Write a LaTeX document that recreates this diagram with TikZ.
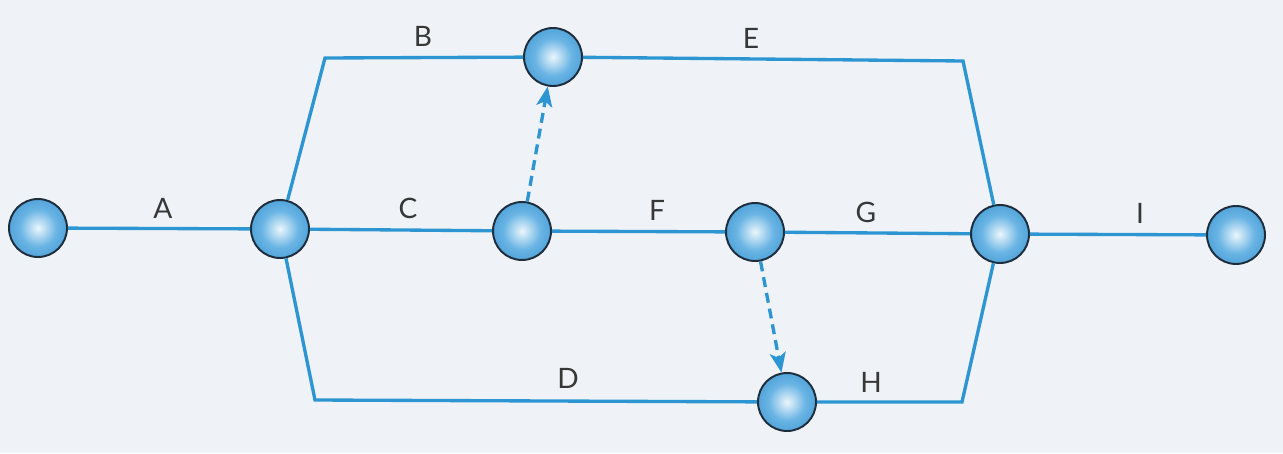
\documentclass[tikz,border=0pt]{standalone}
\usepackage{fontspec}
\setsansfont{Lato}
\usetikzlibrary{arrows.meta}
\definecolor{paper}{RGB}{239,242,246}
\definecolor{wire}{RGB}{45,150,210}
\definecolor{rim}{RGB}{30,45,60}
\definecolor{balledge}{RGB}{40,135,200}
\definecolor{ballmid}{RGB}{105,180,228}
\definecolor{ballhi}{RGB}{235,246,252}
\definecolor{labelgray}{RGB}{55,55,55}
\pgfdeclareradialshading{sphere}{\pgfpoint{0bp}{0bp}}{%
  color(0bp)=(ballhi); color(16bp)=(ballmid); color(42bp)=(balledge); color(50bp)=(balledge)}
\begin{document}
\begin{tikzpicture}[x=0.02cm,y=-0.02cm,
    event/.style={circle,minimum size=1.16cm,inner sep=0pt,draw=rim,line width=1.1pt,shading=sphere},
    activity/.style={draw=wire,line width=1.9pt},
    dummy/.style={draw=wire,line width=1.9pt,dash pattern=on 0.2cm off 0.12cm,-{Stealth[length=0.4cm,width=0.32cm,inset=0.1cm]}},
    lbl/.style={text=labelgray,font=\sffamily\fontsize{16}{18}\selectfont}]
  \fill[paper] (0,0) rectangle (1283,453);
  \useasboundingbox (0,0) rectangle (1283,453);
  % corners of the upper and lower paths
  \coordinate (tl) at (325,58);
  \coordinate (tr) at (963,61);
  \coordinate (bl) at (315,400);
  \coordinate (br) at (962,402);
  % events
  \node[event] (e1) at (38,228) {};
  \node[event] (e2) at (280,229) {};
  \node[event] (e3) at (522,231) {};
  \node[event] (e4) at (755,232) {};
  \node[event] (e5) at (1000,234) {};
  \node[event] (e6) at (1236,235) {};
  \node[event] (eB) at (553,57) {};
  \node[event] (eH) at (787,402) {};
  % activities
  \draw[activity] (e1) -- (e2);
  \draw[activity] (e2) -- (e3);
  \draw[activity] (e3) -- (e4);
  \draw[activity] (e4) -- (e5);
  \draw[activity] (e5) -- (e6);
  \draw[activity] (e2) -- (tl) -- (eB);
  \draw[activity] (eB) -- (tr) -- (e5);
  \draw[activity] (e2) -- (bl) -- (eH);
  \draw[activity] (eH) -- (br) -- (e5);
  \draw[dummy] (e3) -- (eB);
  \draw[dummy] (e4) -- (eH);
  % labels
  \node[lbl] (lA) at (163,208) {A};
  \node[lbl] (lB) at (423,36) {B};
  \node[lbl] (lC) at (408,208) {C};
  \node[lbl] (lD) at (568,378) {D};
  \node[lbl] (lE) at (751,38) {E};
  \node[lbl] (lF) at (657,210) {F};
  \node[lbl] (lG) at (866,212) {G};
  \node[lbl] (lH) at (871,382) {H};
  \node[lbl] (lI) at (1140,213) {I};
\end{tikzpicture}
\end{document}
